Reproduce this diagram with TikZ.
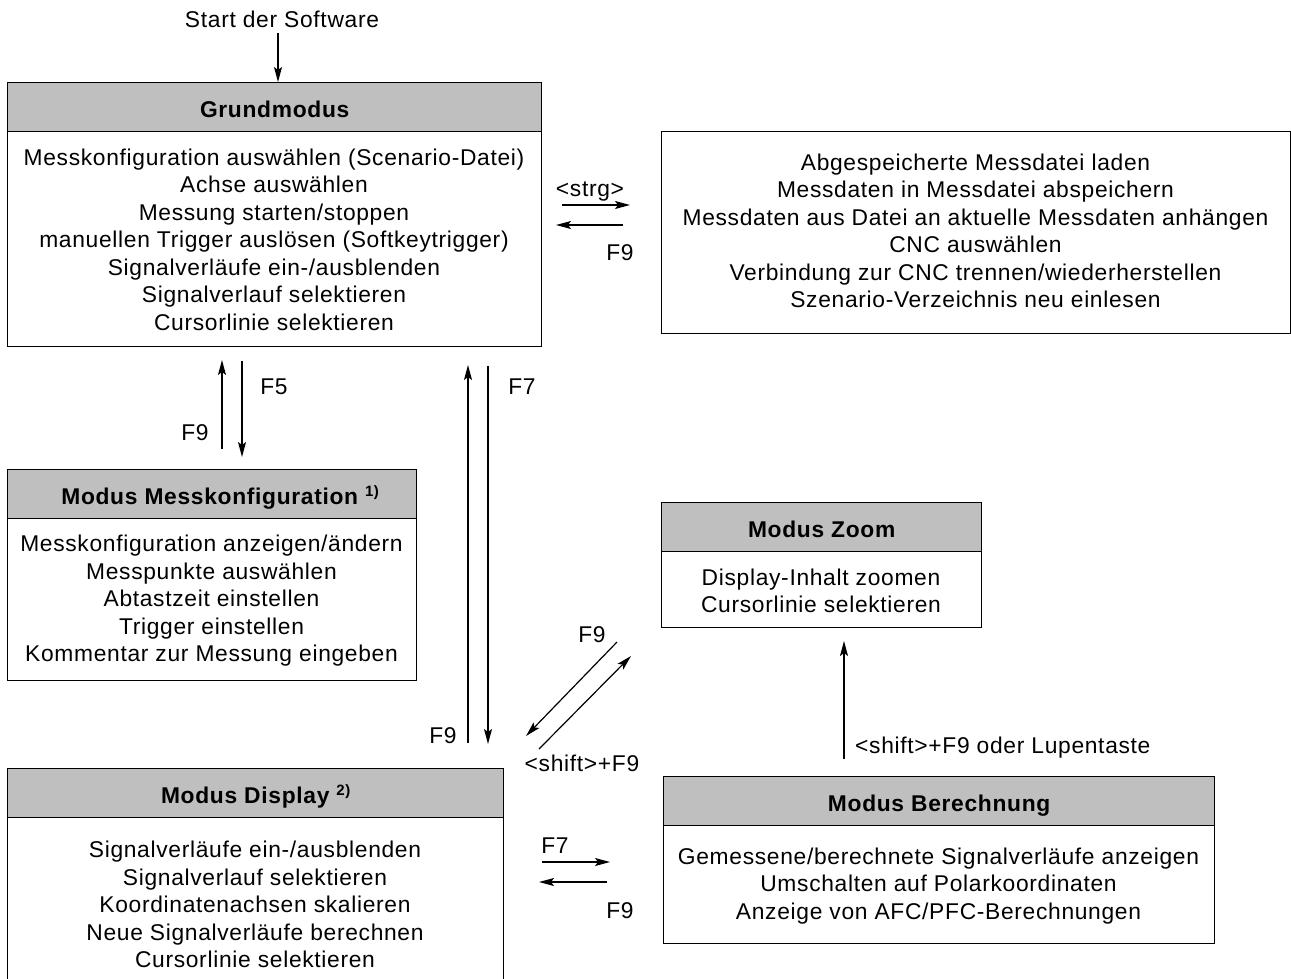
\documentclass[tikz,border=0pt]{standalone}
\usepackage{fontspec}
\setmainfont{Liberation Sans}[LetterSpace=3]
\usetikzlibrary{arrows.meta}
\definecolor{hdrgray}{gray}{0.75}
\newcommand{\supx}[1]{{\fontsize{15}{15}\selectfont\raisebox{8pt}{#1}}}
\begin{document}
\begin{tikzpicture}[x=1pt,y=-1pt,
  frame/.style={draw, line width=1.3pt, rectangle, inner sep=0pt, anchor=north west},
  hdr/.style={draw, fill=hdrgray, line width=1.3pt, rectangle, inner sep=0pt, anchor=north west,
     font=\bfseries\fontsize{22.8}{27.5}\selectfont, text height=20pt, text depth=0pt},
  body/.style={align=center, inner sep=0pt, font=\fontsize{22.8}{27.5}\selectfont},
  lbl/.style={inner sep=0pt, font=\fontsize{22.8}{27.5}\selectfont, text height=16.3pt, text depth=0pt},
  arr/.style={line width=1.2pt, -{Stealth[length=15pt,width=8pt,inset=3pt]}}]
\clip (0,0) rectangle (1291,978);

% Grundmodus
\node[frame, minimum width=534pt, minimum height=264pt] (grund) at (7,82) {};
\node[hdr, minimum width=534pt, minimum height=49pt] (grundh) at (7,82) {Grundmodus};
\node[body] (grundt) at (274,239.5) {Messkonfiguration auswählen (Scenario-Datei)\\Achse auswählen\\Messung starten/stoppen\\manuellen Trigger auslösen (Softkeytrigger)\\Signalverläufe ein-/ausblenden\\Signalverlauf selektieren\\Cursorlinie selektieren};

% Datei box
\node[frame, minimum width=629pt, minimum height=202pt] (files) at (661,131) {};
\node[body] (filest) at (975.5,231) {Abgespeicherte Messdatei laden\\Messdaten in Messdatei abspeichern\\Messdaten aus Datei an aktuelle Messdaten anhängen\\CNC auswählen\\Verbindung zur CNC trennen/wiederherstellen\\Szenario-Verzeichnis neu einlesen};

% Messkonfiguration
\node[frame, minimum width=409pt, minimum height=211pt] (msk) at (7,469) {};
\node[hdr, minimum width=409pt, minimum height=49pt] (mskh) at (7,469) {\hspace*{16pt}Modus Messkonfiguration \supx{1)}};
\node[body] (mskt) at (211.5,601) {Messkonfiguration anzeigen/ändern\\Messpunkte auswählen\\Abtastzeit einstellen\\Trigger einstellen\\Kommentar zur Messung eingeben};

% Zoom
\node[frame, minimum width=320pt, minimum height=125pt] (zoom) at (661,502) {};
\node[hdr, minimum width=320pt, minimum height=49pt] (zoomh) at (661,502) {Modus Zoom};
\node[body] (zoomt) at (821,591) {Display-Inhalt zoomen\\Cursorlinie selektieren};

% Display
\node[frame, minimum width=496pt, minimum height=230pt] (disp) at (7,768) {};
\node[hdr, minimum width=496pt, minimum height=49pt] (disph) at (7,768) {Modus Display \supx{2)}};
\node[body] (dispt) at (255,904.5) {Signalverläufe ein-/ausblenden\\Signalverlauf selektieren\\Koordinatenachsen skalieren\\Neue Signalverläufe berechnen\\Cursorlinie selektieren};

% Berechnung
\node[frame, minimum width=551pt, minimum height=167pt] (ber) at (663,776) {};
\node[hdr, minimum width=551pt, minimum height=49pt] (berh) at (663,776) {Modus Berechnung};
\node[body] (bert) at (938.5,886) {Gemessene/berechnete Signalverläufe anzeigen\\Umschalten auf Polarkoordinaten\\Anzeige von AFC/PFC-Berechnungen};

% Start
\node[lbl] (start) at (282,19) {Start der Software};
\coordinate (s1) at (278,33);
\draw[arr] (s1) -- (s1 |- grundh.north);

% Grund <-> Datei
\coordinate (a1) at (562,205); \coordinate (a2) at (630,205);
\coordinate (a3) at (623,225); \coordinate (a4) at (556,225);
\draw[arr] (a1) -- (a2);
\draw[arr] (a3) -- (a4);
\node[lbl] (lstrg) at (590,188) {<strg>};
\node[lbl] (lf9a) at (620,252) {F9};

% Grund <-> Messkonfiguration
\coordinate (b1) at (222,449); \coordinate (b2) at (222,360);
\coordinate (b3) at (242,361); \coordinate (b4) at (242,457);
\draw[arr] (b1) -- (b2);
\draw[arr] (b3) -- (b4);
\node[lbl] (lf5) at (274,386) {F5};
\node[lbl] (lf9b) at (195,432) {F9};

% Grund <-> Display
\coordinate (c1) at (468,743); \coordinate (c2) at (468,365);
\coordinate (c3) at (488,366); \coordinate (c4) at (488,744);
\draw[arr] (c1) -- (c2);
\draw[arr] (c3) -- (c4);
\node[lbl] (lf7a) at (522,386) {F7};
\node[lbl] (lf9c) at (443,735) {F9};

% Display <-> Zoom
\coordinate (d1) at (617,642); \coordinate (d2) at (526,736);
\coordinate (d3) at (539,749); \coordinate (d4) at (631,656);
\draw[arr] (d1) -- (d2);
\draw[arr] (d3) -- (d4);
\node[lbl] (lf9d) at (592,634) {F9};
\node[lbl] (lshift) at (582,763) {<shift>+F9};

% Berechnung -> Zoom
\coordinate (e1) at (844,759); \coordinate (e2) at (844,641);
\draw[arr] (e1) -- (e2);
\node[lbl, anchor=west] (llupe) at (855,745) {<shift>+F9 oder Lupentaste};

% Display <-> Berechnung
\coordinate (f1) at (542,862); \coordinate (f2) at (610,862);
\coordinate (f3) at (607,882); \coordinate (f4) at (539,882);
\draw[arr] (f1) -- (f2);
\draw[arr] (f3) -- (f4);
\node[lbl] (lf7b) at (555,845) {F7};
\node[lbl] (lf9e) at (620,910) {F9};
\end{tikzpicture}
\end{document}
